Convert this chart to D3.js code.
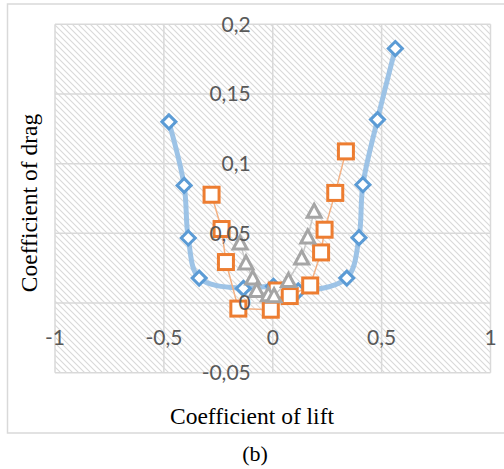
<!DOCTYPE html>
<html>
<head>
<meta charset="utf-8">
<script src="https://cdn.jsdelivr.net/npm/d3@7"></script>
<style>
  body { margin: 0; background: #fff; }
  svg { display: block; }
</style>
</head>
<body>
<div id="chart"></div>
<script>
// data
const xTicks = [-1, -0.5, 0, 0.5, 1];
const yTicks = [-0.05, 0, 0.05, 0.1, 0.15, 0.2];

const blueX = [-0.477, -0.407, -0.388, -0.338, -0.135, 0.003, 0.117, 0.340, 0.396, 0.414, 0.481, 0.563];
const blueY = [0.130, 0.0844, 0.0467, 0.0179, 0.0105, 0.012, 0.0087, 0.0179, 0.0469, 0.0849, 0.1316, 0.1826];

const orangeX = [-0.281, -0.235, -0.215, -0.158, -0.009, 0.018, 0.078, 0.172, 0.222, 0.238, 0.287, 0.336];
const orangeY = [0.0777, 0.0531, 0.0294, -0.004, -0.0048, 0.009, 0.005, 0.0126, 0.0363, 0.0526, 0.079, 0.1088];

const grayX = [-0.150, -0.123, -0.092, -0.074, -0.020, 0.006, 0.072, 0.133, 0.161, 0.190];
const grayY = [0.0431, 0.0287, 0.0179, 0.009, 0.006, 0.0052, 0.0162, 0.0323, 0.0474, 0.0658];

const width = 504, height = 469;
const plot = { left: 55, right: 490.5, top: 24.3, bottom: 372.7 };

const svg = d3.select("#chart").append("svg")
  .attr("width", width)
  .attr("height", height);

// hatch fill for the plot area
const defs = svg.append("defs");
const pat = defs.append("pattern")
  .attr("id", "hatch")
  .attr("patternUnits", "userSpaceOnUse")
  .attr("width", 6)
  .attr("height", 6);
pat.append("rect").attr("width", 6).attr("height", 6).attr("fill", "#fff");
pat.append("path")
  .attr("d", "M0,0L6,6M-1,5L1,7M5,-1L7,1")
  .attr("stroke", "#d9d9d9")
  .attr("stroke-width", 1.1);

// outer frame
svg.append("rect")
  .attr("x", 7.5).attr("y", 4)
  .attr("width", 500).attr("height", 429)
  .attr("fill", "none")
  .attr("stroke", "#d9d9d9")
  .attr("stroke-width", 1.5);

const x = d3.scaleLinear().domain([-1, 1]).range([plot.left, plot.right]);
const y = d3.scaleLinear().domain([-0.05, 0.2]).range([plot.bottom, plot.top]);

svg.append("rect")
  .attr("x", plot.left).attr("y", plot.top)
  .attr("width", plot.right - plot.left)
  .attr("height", plot.bottom - plot.top)
  .attr("fill", "url(#hatch)");

// grid
const grid = svg.append("g").attr("stroke", "#d9d9d9").attr("stroke-width", 1.5);
grid.selectAll(".gx").data(xTicks).enter().append("line")
  .attr("x1", d => x(d)).attr("x2", d => x(d))
  .attr("y1", plot.top).attr("y2", plot.bottom);
grid.selectAll(".gy").data(yTicks).enter().append("line")
  .attr("x1", plot.left).attr("x2", plot.right)
  .attr("y1", d => y(d)).attr("y2", d => y(d));

function pts(xs, ys) {
  return xs.map((v, i) => ({ x: v, y: ys[i] }));
}
const blue = pts(blueX, blueY);
const orange = pts(orangeX, orangeY);
const gray = pts(grayX, grayY);

// blue series, smoothed
svg.append("path")
  .datum(blue)
  .attr("fill", "none")
  .attr("stroke", "#9dc3e6")
  .attr("stroke-width", 5)
  .attr("stroke-linejoin", "round")
  .attr("d", d3.line().x(d => x(d.x)).y(d => y(d.y)).curve(d3.curveCatmullRom.alpha(0.5)));
svg.append("g").selectAll("path")
  .data(blue).enter().append("path")
  .attr("d", d => {
    const cx = x(d.x), cy = y(d.y), r = 7;
    return `M${cx},${cy - r}L${cx + r},${cy}L${cx},${cy + r}L${cx - r},${cy}Z`;
  })
  .attr("fill", "#fff")
  .attr("stroke", "#5b9bd5")
  .attr("stroke-width", 3);

// orange series
svg.append("path")
  .datum(orange)
  .attr("fill", "none")
  .attr("stroke", "#f4b183")
  .attr("stroke-width", 1.5)
  .attr("d", d3.line().x(d => x(d.x)).y(d => y(d.y)));
svg.append("g").selectAll("rect")
  .data(orange).enter().append("rect")
  .attr("x", d => x(d.x) - 7.5)
  .attr("y", d => y(d.y) - 7.5)
  .attr("width", 15).attr("height", 15)
  .attr("fill", "#fff")
  .attr("stroke", "#ed7d31")
  .attr("stroke-width", 3);

// gray series
svg.append("path")
  .datum(gray)
  .attr("fill", "none")
  .attr("stroke", "#c9c9c9")
  .attr("stroke-width", 1.5)
  .attr("d", d3.line().x(d => x(d.x)).y(d => y(d.y)));
svg.append("g").selectAll("path")
  .data(gray).enter().append("path")
  .attr("d", d => {
    const cx = x(d.x), cy = y(d.y);
    return `M${cx},${cy - 7}L${cx + 7},${cy + 6}L${cx - 7},${cy + 6}Z`;
  })
  .attr("fill", "#fff")
  .attr("stroke", "#a5a5a5")
  .attr("stroke-width", 3)
  .attr("stroke-linejoin", "miter");

// tick labels
const fmt = v => String(v).replace(".", ",");
const lab = svg.append("g")
  .attr("font-family", "Lato, 'Open Sans', sans-serif")
  .attr("font-size", 21)
  .attr("fill", "#595959");
lab.selectAll(".yl").data(yTicks).enter().append("text")
  .attr("x", x(0) - 22)
  .attr("y", d => y(d))
  .attr("dy", "0.35em")
  .attr("text-anchor", "end")
  .text(fmt);
lab.selectAll(".xl").data(xTicks).enter().append("text")
  .attr("x", d => x(d))
  .attr("y", y(-0.025))
  .attr("dy", "0.35em")
  .attr("text-anchor", "middle")
  .text(fmt);

// axis titles
const serif = "'Liberation Serif', 'Times New Roman', serif";
svg.append("text")
  .attr("transform", "translate(37,203) rotate(-90)")
  .attr("text-anchor", "middle")
  .attr("font-family", serif)
  .attr("font-size", 23.5)
  .attr("fill", "#000")
  .text("Coefficient of drag");
svg.append("text")
  .attr("x", 252).attr("y", 424)
  .attr("text-anchor", "middle")
  .attr("font-family", serif)
  .attr("font-size", 23.5)
  .attr("fill", "#000")
  .text("Coefficient of lift");
svg.append("text")
  .attr("x", 255).attr("y", 461)
  .attr("text-anchor", "middle")
  .attr("font-family", serif)
  .attr("font-size", 22)
  .attr("fill", "#000")
  .text("(b)");
</script>
</body>
</html>
